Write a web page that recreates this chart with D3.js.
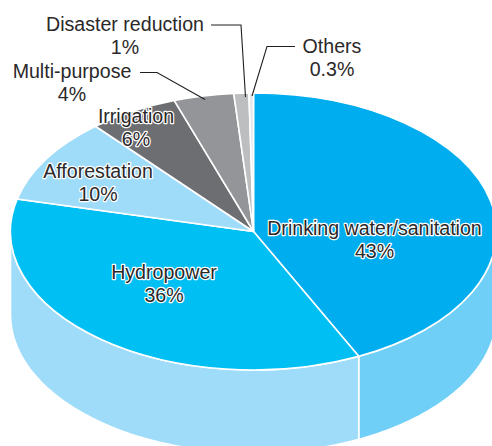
<!DOCTYPE html>
<html>
<head>
<meta charset="utf-8">
<title>Water projects by purpose</title>
<script src="https://cdn.jsdelivr.net/npm/d3@7"></script>
<style>
  html, body { margin: 0; padding: 0; background: #fff; overflow: hidden; }
  svg { display: block; }
  text { font-family: "Liberation Sans", Arial, sans-serif; font-size: 19.6px; fill: #2b2829; text-anchor: middle; }
  .halo { stroke: #fff; stroke-width: 2.4px; stroke-linejoin: round; paint-order: stroke; }
  .slice { stroke: #fff; stroke-width: 1.6px; vector-effect: non-scaling-stroke; }
  .leader { fill: none; stroke: #231f20; stroke-width: 1.1px; }
</style>
</head>
<body>
<script>
// shares by purpose, clockwise from twelve o'clock
var categories = ["Drinking water/sanitation", "Hydropower", "Afforestation", "Irrigation", "Multi-purpose", "Disaster reduction", "Others"];
var values = [43, 36, 10, 6, 4, 1, 0.3];
var labels = ["43%", "36%", "10%", "6%", "4%", "1%", "0.3%"];
var topColors = ["#00aeef", "#00bff3", "#9fdcf9", "#6d6e71", "#939598", "#bcbec0", "#e6e7e8"];
var wallColors = ["#6fcff6", "#9fdcf9", null, null, null, null, null];

var width = 492, height = 446;
var cx = 253.5, cy = 231.5, rx = 243, ry = 138.5, depth = 83;

var svg = d3.select("body").append("svg")
    .attr("width", width)
    .attr("height", height);

var pie = d3.pie().sort(null).value(function(d) { return d; });
var arcs = pie(values);

var px = function(a) { return cx + rx * Math.sin(a); };
var py = function(a) { return cy - ry * Math.cos(a); };

// wall of the disc, only the part facing the viewer
function wall(start, end) {
  var from = Math.max(start, Math.PI / 2);
  var to = Math.min(end, Math.PI * 1.5);
  var steps = d3.range(0, 61).map(function(i) { return from + (to - from) * i / 60; });
  var line = d3.line();
  var upper = steps.map(function(a) { return [px(a), py(a)]; });
  var lower = steps.slice().reverse().map(function(a) { return [px(a), py(a) + depth]; });
  return line(upper.concat(lower)) + "Z";
}

svg.append("g").selectAll("path")
    .data(arcs.filter(function(d) { return wallColors[d.index]; }))
  .join("path")
    .attr("d", function(d) { return wall(d.startAngle, d.endAngle); })
    .attr("fill", function(d) { return wallColors[d.index]; })
    .attr("stroke", "#fff")
    .attr("stroke-width", 1.6);

// top face: a circular pie squashed into an ellipse
var arc = d3.arc().innerRadius(0).outerRadius(rx);
svg.append("g")
    .attr("transform", "translate(" + cx + "," + cy + ") scale(1," + (ry / rx) + ")")
  .selectAll("path")
    .data(arcs)
  .join("path")
    .attr("class", "slice")
    .attr("d", arc)
    .attr("fill", function(d) { return topColors[d.index]; });

// leader lines for the labels outside the disc
var leaders = [
  [[211, 25], [241, 25], [245.5, 97]],
  [[295, 46.5], [267, 46.5], [252, 96]],
  [[140, 72.5], [157, 72.5], [205, 99.5]]
];
svg.append("g").selectAll("path")
    .data(leaders)
  .join("path")
    .attr("class", "leader")
    .attr("d", d3.line());

// label anchors and whether the text sits on the disc
var labelPos = [
  { x: 374.5, y: 235, halo: true },
  { x: 164, y: 279, halo: true },
  { x: 98, y: 178, halo: true },
  { x: 136, y: 123, halo: true },
  { x: 72, y: 78, halo: false },
  { x: 125, y: 31, halo: false },
  { x: 332, y: 53, halo: false }
];

var text = svg.append("g").selectAll("text")
    .data(categories)
  .join("text")
    .attr("class", function(d, i) { return labelPos[i].halo ? "halo" : null; })
    .attr("x", function(d, i) { return labelPos[i].x; })
    .attr("y", function(d, i) { return labelPos[i].y; });

text.append("tspan").text(function(d) { return d; });
text.append("tspan")
    .attr("x", function(d, i) { return labelPos[i].x; })
    .attr("dy", 23)
    .text(function(d, i) { return labels[i]; });
</script>
</body>
</html>
